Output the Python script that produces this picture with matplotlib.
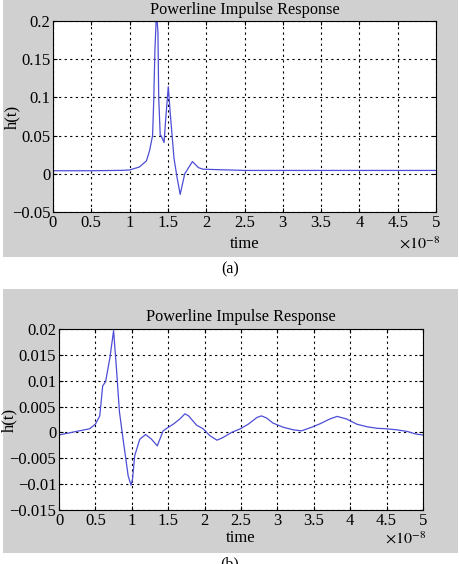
import matplotlib
matplotlib.use("Agg")
import matplotlib.pyplot as plt
from matplotlib.patches import Rectangle

plt.rcParams['font.family'] = ['Liberation Serif', 'DejaVu Serif']
plt.rcParams['mathtext.fontset'] = 'stix'

# Panel (a) data (time in units of 1e-8 s)
t_a = [0.0, 0.5, 0.9, 1.0, 1.13, 1.22, 1.26, 1.30, 1.315, 1.33, 1.35, 1.36, 1.37, 1.38, 1.40, 1.41,
       1.45, 1.47, 1.505, 1.53, 1.58, 1.62, 1.66, 1.72, 1.82, 1.9, 1.96, 2.3, 2.5, 5.0]
h_a = [0.004, 0.004, 0.0045, 0.005, 0.009, 0.017, 0.03, 0.05, 0.096, 0.16, 0.21, 0.2, 0.185, 0.1,
       0.05, 0.05, 0.041, 0.07, 0.114, 0.08, 0.02, -0.005, -0.027, 0.0, 0.016, 0.008, 0.006, 0.005,
       0.0044, 0.0044]

# Panel (b) data (time in units of 1e-8 s)
t_b = [0.0, 0.24, 0.42, 0.5, 0.56, 0.6, 0.64, 0.70, 0.75, 0.79, 0.83, 0.88, 0.95, 0.99, 1.01, 1.04,
       1.11, 1.19, 1.27, 1.35, 1.43, 1.48, 1.57, 1.66, 1.73, 1.78, 1.89, 1.98, 2.07, 2.17, 2.25,
       2.37, 2.49, 2.6, 2.72, 2.78, 2.85, 2.94, 3.08, 3.22, 3.33, 3.47, 3.59, 3.72, 3.82, 3.95,
       4.09, 4.23, 4.37, 4.5, 4.64, 4.78, 4.9, 5.0]
h_b = [-0.0005, 0.0002, 0.0007, 0.0016, 0.0032, 0.009, 0.0098, 0.0145, 0.0197, 0.0122, 0.004,
       -0.0013, -0.0084, -0.0102, -0.009, -0.0045, -0.0013, -0.0004, -0.0013, -0.0026, 0.0003,
       0.0008, 0.0016, 0.0026, 0.0036, 0.0032, 0.0014, 0.0007, -0.0006, -0.0015, -0.001, 0.0,
       0.0007, 0.0016, 0.0029, 0.0032, 0.0028, 0.0018, 0.001, 0.0005, 0.0003, 0.001, 0.0017,
       0.0026, 0.0031, 0.0026, 0.0016, 0.0011, 0.0008, 0.0007, 0.0005, 0.0002, -0.0003, -0.0005]

xticks = [0, 0.5, 1, 1.5, 2, 2.5, 3, 3.5, 4, 4.5, 5]
xticklabels = ['0', '0.5', '1', '1.5', '2', '2.5', '3', '3.5', '4', '4.5', '5']
yticks_a = [-0.05, 0, 0.05, 0.1, 0.15, 0.2]
yticklabels_a = ['\u22120.05', '0', '0.05', '0.1', '0.15', '0.2']
yticks_b = [-0.015, -0.01, -0.005, 0, 0.005, 0.01, 0.015, 0.02]
yticklabels_b = ['\u22120.015', '\u22120.01', '\u22120.005', '0', '0.005', '0.01', '0.015', '0.02']

W, H = 460, 564
fig = plt.figure(figsize=(W / 100, H / 100), dpi=100)
GRAY = '#d0d0d0'
LINE = '#4d4dd6'
FS = 12


def px(x0, y0, x1, y1):
    return [x0 / W, 1 - y1 / H, (x1 - x0) / W, (y1 - y0) / H]


def panel(rect_px, ax_px, t, h, yticks, ylabels, ylim, label, label_y,
          ylab_x, title_pad, xlab_pad, mult_y):
    x0, y0, x1, y1 = rect_px
    bg = Rectangle((x0 / W, 1 - y1 / H), (x1 - x0) / W, (y1 - y0) / H,
                   transform=fig.transFigure, facecolor=GRAY, edgecolor='none', zorder=-5)
    fig.patches.append(bg)
    ax = fig.add_axes(px(*ax_px))
    ax.set_zorder(2)
    ax.plot(t, h, color=LINE, lw=0.9)
    ax.set_xlim(0, 5)
    ax.set_ylim(*ylim)
    ax.set_xticks(xticks)
    ax.set_xticklabels(xticklabels, fontsize=FS)
    ax.set_yticks(yticks)
    ax.set_yticklabels(ylabels, fontsize=FS)
    ax.tick_params(direction='in', top=True, right=True, length=3, width=0.8, pad=2)
    ax.grid(True, color='black', linestyle=(0, (2, 3)), linewidth=0.8)
    for s in ax.spines.values():
        s.set_linewidth(0.8)
    ax.set_xlabel('time', fontsize=FS, labelpad=xlab_pad)
    ax.set_ylabel('h(t)', fontsize=FS)
    ax.yaxis.set_label_coords(ylab_x, 0.5)
    ax.set_title('Powerline Impulse Response', fontsize=FS - 0.3, pad=title_pad)
    ax.text(1.01, mult_y, r'$\times 10^{-8}$', transform=ax.transAxes, ha='right', va='center',
            fontsize=FS - 0.5)
    fig.text(0.5, 1 - label_y / H, label, ha='center', va='center', fontsize=FS - 0.5)
    return ax


panel((3, 0, 458, 257), (53, 21, 436, 212), t_a, h_a, yticks_a, yticklabels_a, (-0.05, 0.2),
      '(a)', 269, -0.085, 5, 4, -0.17)
panel((3, 289, 458, 553), (59, 329, 423, 510), t_b, h_b, yticks_b, yticklabels_b, (-0.015, 0.02),
      '(b)', 564, -0.115, 6, 1, -0.165)

fig.savefig('out.png', dpi=100)
